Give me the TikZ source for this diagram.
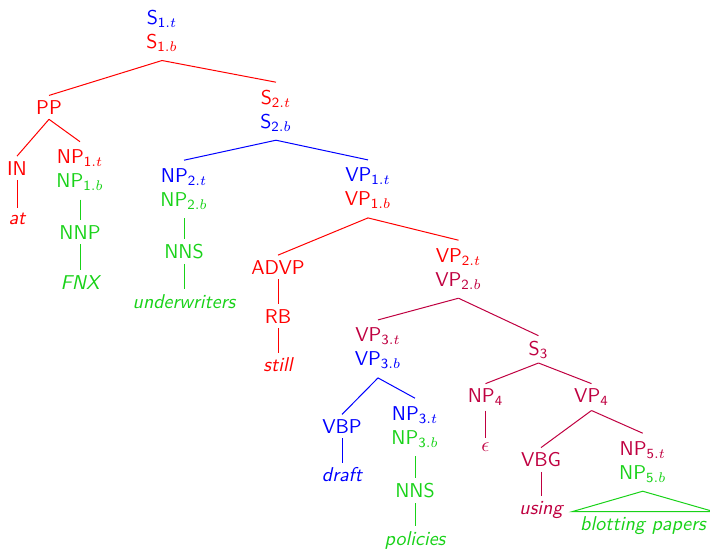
\documentclass[tikz,border=0pt]{standalone}
\usepackage{xcolor}
\definecolor{tgreen}{RGB}{25,210,25}
\definecolor{tpurple}{rgb}{0.75,0,0.25}
\newcommand\twoline[2]{\begin{tabular}[b]{@{}c@{}}#1\\#2\end{tabular}}
\newcommand\sub[2]{$_{\mathsf{#1}.#2}$}
\newcommand\subn[1]{$_{\mathsf{#1}}$}
\tikzset{
  tn/.style={font=\sffamily, inner sep=2.3pt, anchor=base},
  lf/.style={tn, font=\sffamily\itshape},
  edge/.style={line width=0.5pt},
}
\begin{document}
\begin{tikzpicture}[x=0.5pt, y=-0.5pt]
\useasboundingbox (0,0) rectangle (710,548);

% constituents, each placed at the baseline of its last line
\node[tn] (s1) at (162,48.3) {\twoline{\color{blue}S\sub{1}{t}}{\color{red}S\sub{1}{b}}};
\node[tn, red] (pp) at (49,114.3) {PP};
\node[tn, red] (in) at (17,175) {IN};
\node[lf, red] (at) at (17,224) {at};
\node[tn] (np1) at (80,187.5) {\twoline{\color{red}NP\sub{1}{t}}{\color{tgreen}NP\sub{1}{b}}};
\node[tn, tgreen] (nnp) at (80,239) {NNP};
\node[lf, tgreen] (fnx) at (80,289) {FNX};
\node[tn] (s2) at (276,128) {\twoline{\color{red}S\sub{2}{t}}{\color{blue}S\sub{2}{b}}};
\node[tn] (np2) at (184,206) {\twoline{\color{blue}NP\sub{2}{t}}{\color{tgreen}NP\sub{2}{b}}};
\node[tn, tgreen] (nnsa) at (184,258.3) {NNS};
\node[lf, tgreen] (uw) at (184,308) {underwriters};
\node[tn] (vp1) at (368,205.7) {\twoline{\color{blue}VP\sub{1}{t}}{\color{red}VP\sub{1}{b}}};
\node[tn, red] (advp) at (278,274) {ADVP};
\node[tn, red] (rb) at (278,323.3) {RB};
\node[lf, red] (still) at (278,371.7) {still};
\node[tn] (vp2) at (458.5,286) {\twoline{\color{red}VP\sub{2}{t}}{\color{tpurple}VP\sub{2}{b}}};
\node[tn] (vp3) at (378,365.7) {\twoline{\color{tpurple}VP\sub{3}{t}}{\color{blue}VP\sub{3}{b}}};
\node[tn, blue] (vbp) at (342,433.3) {VBP};
\node[lf, blue] (draft) at (342,481.7) {draft};
\node[tn] (np3) at (415,444) {\twoline{\color{blue}NP\sub{3}{t}}{\color{tgreen}NP\sub{3}{b}}};
\node[tn, tgreen] (nnsb) at (415,497.7) {NNS};
\node[lf, tgreen] (pol) at (415,545) {policies};
\node[tn, tpurple] (s3) at (538.5,355) {S\subn{3}};
\node[tn, tpurple] (np4) at (485.5,402.5) {NP\subn{4}};
\node[tn, tpurple] (eps) at (485.5,451.7) {$\epsilon$};
\node[tn, tpurple] (vp4) at (591.5,402.5) {VP\subn{4}};
\node[tn, tpurple] (vbg) at (541,466.7) {VBG};
\node[lf, tpurple] (using) at (541,514.5) {using};
\node[tn] (np5) at (642.7,479) {\twoline{\color{tpurple}NP\sub{5}{t}}{\color{tgreen}NP\sub{5}{b}}};
\node[lf, tgreen, inner xsep=3.8pt] (bp) at (643,530.5) {blotting papers};

% branches
\draw[edge, red] (s1.south) -- (pp.north);
\draw[edge, red] (s1.south) -- (s2.north);
\draw[edge, red] (pp.south) -- (in.north);
\draw[edge, red] (pp.south) -- (np1.north);
\draw[edge, red] (in.south) -- (at.north);
\draw[edge, tgreen] (np1.south) -- (nnp.north);
\draw[edge, tgreen] (nnp.south) -- (fnx.north);
\draw[edge, blue] (s2.south) -- (np2.north);
\draw[edge, blue] (s2.south) -- (vp1.north);
\draw[edge, tgreen] (np2.south) -- (nnsa.north);
\draw[edge, tgreen] (nnsa.south) -- (uw.north);
\draw[edge, red] (vp1.south) -- (advp.north);
\draw[edge, red] (vp1.south) -- (vp2.north);
\draw[edge, red] (advp.south) -- (rb.north);
\draw[edge, red] (rb.south) -- (still.north);
\draw[edge, tpurple] (vp2.south) -- (vp3.north);
\draw[edge, tpurple] (vp2.south) -- (s3.north);
\draw[edge, blue] (vp3.south) -- (vbp.north);
\draw[edge, blue] (vp3.south) -- (np3.north);
\draw[edge, blue] (vbp.south) -- (draft.north);
\draw[edge, tgreen] (np3.south) -- (nnsb.north);
\draw[edge, tgreen] (nnsb.south) -- (pol.north);
\draw[edge, tpurple] (s3.south) -- (np4.north);
\draw[edge, tpurple] (s3.south) -- (vp4.north);
\draw[edge, tpurple] (np4.south) -- (eps.north);
\draw[edge, tpurple] (vp4.south) -- (vbg.north);
\draw[edge, tpurple] (vp4.south) -- (np5.north);
\draw[edge, tpurple] (vbg.south) -- (using.north);
\draw[edge, tgreen] (np5.south) -- (bp.north west) -- (bp.north east) -- cycle;
\end{tikzpicture}
\end{document}
